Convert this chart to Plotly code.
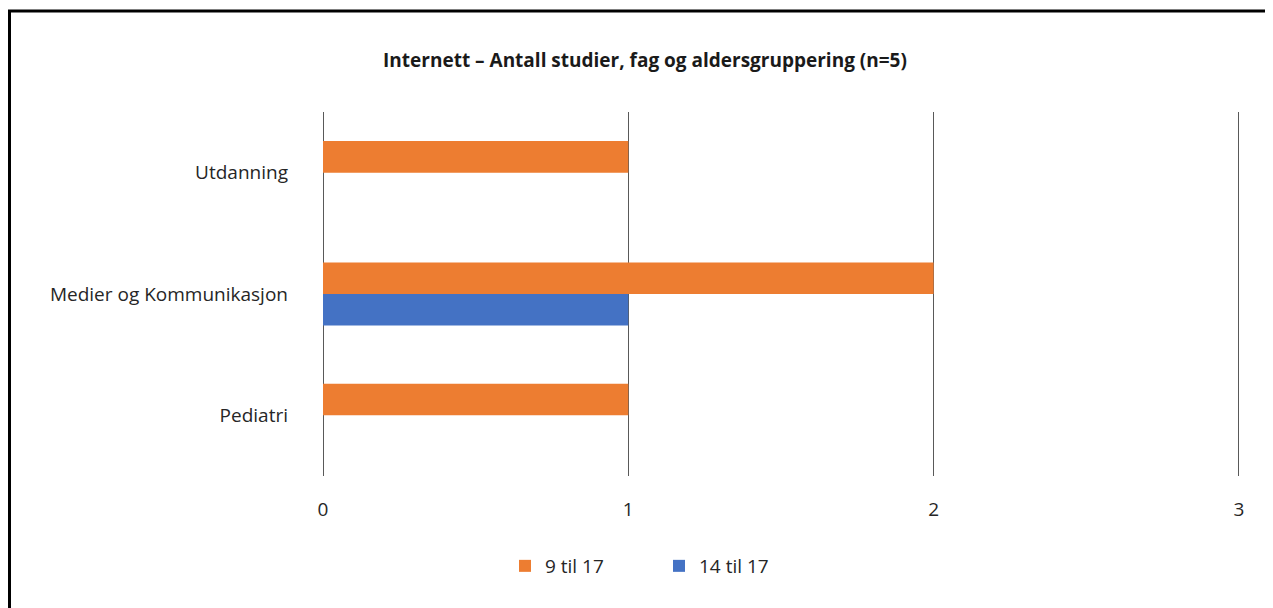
import plotly.graph_objects as go

categories = ["Utdanning", "Medier og Kommunikasjon", "Pediatri"]
series_names = ["9 til 17", "14 til 17"]
values_9_17 = [1, 2, 1]
values_14_17 = [0, 1, 0]
colors = ["#ED7D31", "#4472C4"]
x_ticks = [0, 1, 2, 3]
x_max = 3.02

OFF = 8  # page body margin
W, H = 1273 - OFF, 608 - OFF
L, T, ph = 323 - OFF, 112 - OFF, 364
pw = round(916 * x_max / 3)
R, B = W - L - pw, H - T - ph

fig = go.Figure()
for name, vals, col in zip(series_names, [values_9_17, values_14_17], colors):
    fig.add_trace(go.Bar(y=categories, x=vals, name=name, orientation="h",
                         marker=dict(color=col, line=dict(width=0))))

font_fam = "Open Sans"
fig.update_layout(
    width=W, height=H,
    margin=dict(l=L, r=R, t=T, b=B),
    paper_bgcolor="white", plot_bgcolor="white",
    barmode="group", bargap=0.48, bargroupgap=0,
    font=dict(family=font_fam, size=19, color="#262626"),
    title=dict(text="<b>Internett – Antall studier, fag og aldersgruppering (n=5)</b>",
               x=(645 - OFF) / W, xanchor="center", y=1 - (60 - OFF) / H, yanchor="middle",
               font=dict(family=font_fam, size=19, color="#1a1a1a")),
    xaxis=dict(range=[0, x_max], tickvals=x_ticks, showgrid=True, gridcolor="#595959",
               gridwidth=1, zeroline=True, zerolinecolor="#595959", zerolinewidth=1,
               showline=False, ticks="",
               ticklabelstandoff=20, tickfont=dict(size=19)),
    yaxis=dict(autorange="reversed", showgrid=False, zeroline=False, showline=False,
               ticks="", ticklabelstandoff=34, tickfont=dict(size=19)),
    legend=dict(orientation="h", x=(645 - 323 + 14) / pw, xanchor="center",
                y=-(566 - 476) / ph, yanchor="middle",
                font=dict(size=19), entrywidth=109, entrywidthmode="pixels"),
    shapes=[dict(type="rect", xref="paper", yref="paper",
                 x0=(9.5 - OFF - L) / pw, x1=(W + 20 - L) / pw,
                 y0=-(H + 20 - T - ph) / ph, y1=(T + ph - (11 - OFF)) / ph,
                 line=dict(color="black", width=3), fillcolor="rgba(0,0,0,0)",
                 layer="above")],
)
fig.write_html("out.html")
